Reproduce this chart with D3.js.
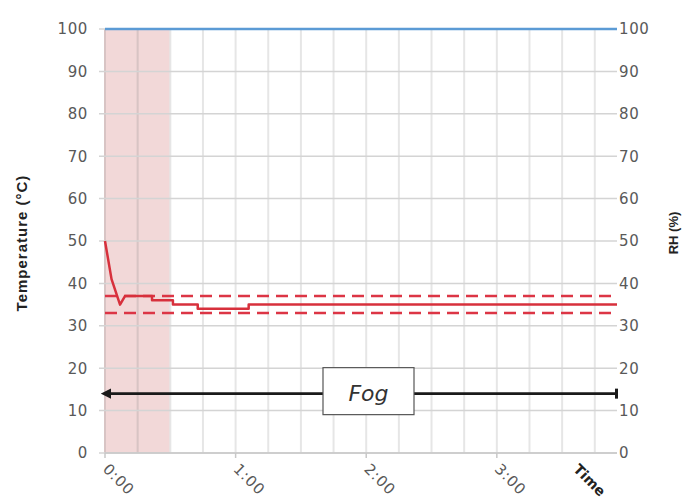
<!DOCTYPE html>
<html>
<head>
<meta charset="utf-8">
<script src="https://cdn.jsdelivr.net/npm/d3@7.9.0/dist/d3.min.js"></script>
<style>
  body { margin: 0; background: #fff; }
  svg { display: block; font-family: "DejaVu Sans", sans-serif; }
</style>
</head>
<body>
<svg id="chart" width="682" height="502"></svg>
<script>
// chart data (time in hours)
const timeHours = [0, 0.05, 0.115, 0.153, 0.36, 0.36, 0.52, 0.52, 0.71, 0.71, 1.10, 1.10, 3.92];
const tempC = [50, 41, 35, 37, 37, 36, 36, 35, 35, 34, 34, 35, 35];
const rhTime = [0, 3.92];
const rhValues = [100, 100];
const upperLimit = 37;
const lowerLimit = 33;
const fogStart = 0, fogEnd = 0.5;
const fogLevel = 14;
const yTicks = [0, 10, 20, 30, 40, 50, 60, 70, 80, 90, 100];
const hourTicks = [0, 1, 2, 3];
const hourLabels = ['0:00', '1:00', '2:00', '3:00'];

const svg = d3.select('#chart');
const mLeft = 105, mRight = 617, mTop = 29, mBottom = 453;

const x = d3.scaleLinear().domain([0, 3.92]).range([mLeft, mRight]);
const y = d3.scaleLinear().domain([0, 100]).range([mBottom, mTop]);
const yR = d3.scaleLinear().domain([0, 100]).range([mBottom, mTop]);

// fog shading
svg.append('rect')
  .attr('x', x(fogStart)).attr('y', y(100))
  .attr('width', x(fogEnd) - x(fogStart)).attr('height', y(0) - y(100))
  .attr('fill', '#f2d8d8');

// vertical grid every 15 min
const quarters = d3.range(0, 3.76, 0.25);
svg.append('g').selectAll('line').data(quarters).join('line')
  .attr('x1', d => x(d)).attr('x2', d => x(d))
  .attr('y1', y(100)).attr('y2', y(0))
  .attr('stroke', d => d < fogEnd ? '#d8c4c4' : '#e6e6e6')
  .attr('stroke-width', 2);

// horizontal grid (left ticks extend out)
svg.append('g').selectAll('line').data(yTicks).join('line')
  .attr('x1', mLeft - 6).attr('x2', mRight)
  .attr('y1', d => y(d)).attr('y2', d => y(d))
  .attr('stroke', '#d4d4d4')
  .attr('stroke-width', 1.5);

// x axis line and hour ticks
svg.append('line')
  .attr('x1', mLeft).attr('x2', mRight).attr('y1', y(0)).attr('y2', y(0))
  .attr('stroke', '#c8c8c8').attr('stroke-width', 1.5);
svg.append('g').selectAll('line').data(hourTicks).join('line')
  .attr('x1', d => x(d)).attr('x2', d => x(d))
  .attr('y1', y(0)).attr('y2', y(0) + 5)
  .attr('stroke', '#c8c8c8').attr('stroke-width', 1.5);

// left axis labels
const leftAxis = d3.axisLeft(y).tickValues(yTicks).tickSize(0).tickPadding(17);
const gL = svg.append('g').attr('transform', `translate(${mLeft},0)`).call(leftAxis);
gL.select('.domain').remove();
gL.selectAll('text').attr('font-size', 15).attr('fill', '#595959')
  .attr('font-family', 'DejaVu Sans').attr('letter-spacing', 0.6);

// right axis labels
const rightAxis = d3.axisRight(yR).tickValues(yTicks).tickSize(0).tickPadding(2);
const gR = svg.append('g').attr('transform', `translate(${mRight},0)`).call(rightAxis);
gR.select('.domain').remove();
gR.selectAll('text').attr('font-size', 15).attr('fill', '#595959')
  .attr('font-family', 'DejaVu Sans').attr('letter-spacing', 0.6);

// x labels (rotated)
svg.append('g').selectAll('text').data(hourTicks).join('text')
  .attr('transform', d => `translate(${x(d) - 3},${y(0) + 17}) rotate(45)`)
  .attr('font-size', 15).attr('fill', '#595959').attr('letter-spacing', 0.8)
  .text((d, i) => hourLabels[i]);
svg.append('text')
  .attr('transform', `translate(${x(3.58)},${y(0) + 17}) rotate(45)`)
  .attr('font-size', 14).attr('font-weight', 'bold').attr('fill', '#222')
  .text('Time');

// axis titles
svg.append('text')
  .attr('transform', 'translate(27,243) rotate(-90)')
  .attr('text-anchor', 'middle').attr('font-size', 15).attr('font-weight', 'bold')
  .attr('fill', '#222').attr('font-family', 'Liberation Sans').attr('letter-spacing', 1)
  .text('Temperature  (°C)');
svg.append('text')
  .attr('transform', 'translate(678,233) rotate(-90)')
  .attr('text-anchor', 'middle').attr('font-size', 13).attr('font-weight', 'bold')
  .attr('fill', '#222').attr('font-family', 'Liberation Sans')
  .text('RH (%)');

// RH line
const rhLine = d3.line().x((d, i) => x(rhTime[i])).y(d => yR(d));
svg.append('path').attr('d', rhLine(rhValues))
  .attr('fill', 'none').attr('stroke', '#5b9bd5').attr('stroke-width', 2.5);

// limit lines
[upperLimit, lowerLimit].forEach(v => {
  svg.append('line')
    .attr('x1', x(0)).attr('x2', x(3.92)).attr('y1', y(v)).attr('y2', y(v))
    .attr('stroke', '#dc3545').attr('stroke-width', 2.5)
    .attr('stroke-dasharray', '12,7');
});

// temperature line
const tLine = d3.line().x((d, i) => x(timeHours[i])).y(d => y(d));
svg.append('path').attr('d', tLine(tempC))
  .attr('fill', 'none').attr('stroke', '#d7303c').attr('stroke-width', 2.5)
  .attr('stroke-linejoin', 'round');

// fog arrow
svg.append('defs').append('marker')
  .attr('id', 'arrow').attr('viewBox', '0 0 10 10')
  .attr('refX', 2).attr('refY', 5)
  .attr('markerWidth', 4).attr('markerHeight', 4)
  .attr('orient', 'auto-start-reverse')
  .append('path').attr('d', 'M0,0 L10,5 L0,10 z').attr('fill', '#1a1a1a');
svg.append('line')
  .attr('x1', x(3.92)).attr('x2', x(0.03))
  .attr('y1', y(fogLevel)).attr('y2', y(fogLevel))
  .attr('stroke', '#1a1a1a').attr('stroke-width', 2.6)
  .attr('marker-end', 'url(#arrow)');
svg.append('rect')
  .attr('x', x(3.92) - 2).attr('y', y(fogLevel) - 5)
  .attr('width', 3).attr('height', 10).attr('fill', '#1a1a1a');

// fog label box
const boxX = 323, boxW = 91;
svg.append('rect')
  .attr('x', boxX).attr('y', y(fogLevel) - 26)
  .attr('width', boxW).attr('height', 47)
  .attr('fill', '#fff').attr('stroke', '#555').attr('stroke-width', 1.2);
svg.append('text')
  .attr('x', boxX + boxW / 2).attr('y', y(fogLevel) + 7)
  .attr('text-anchor', 'middle').attr('font-size', 22).attr('font-style', 'italic')
  .attr('fill', '#333').text('Fog');
</script>
</body>
</html>
